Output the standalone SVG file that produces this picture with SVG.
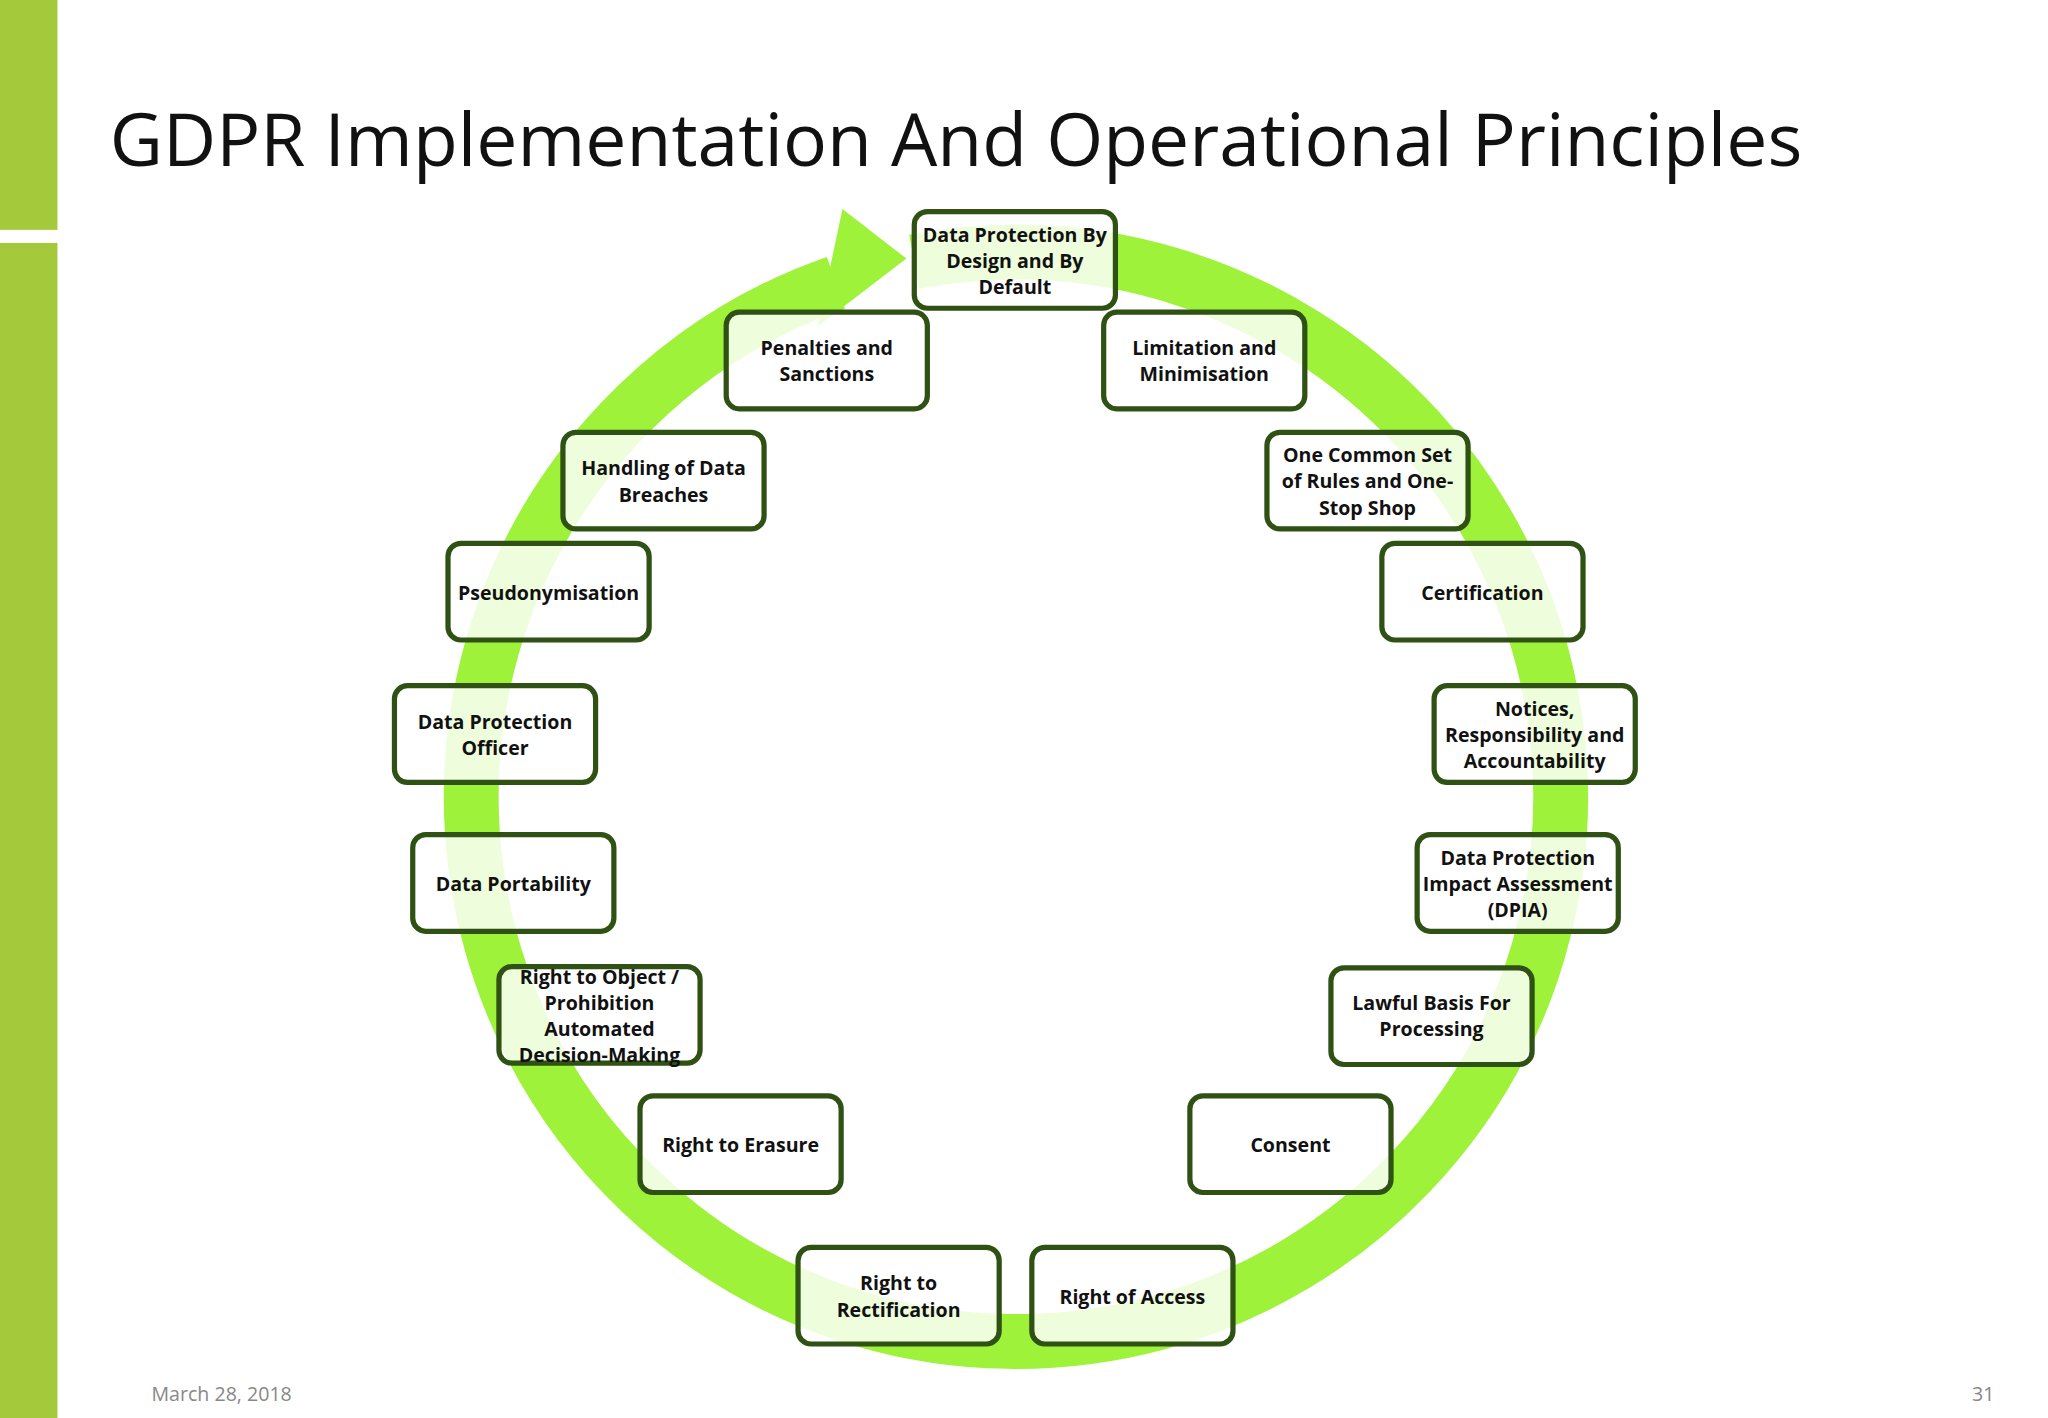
<svg xmlns="http://www.w3.org/2000/svg" width="2048" height="1418" viewBox="0 0 2048 1418">
<style>
.b rect{fill:#fff;fill-opacity:0.82;stroke:#2f5214;stroke-width:4}
.b text{font-family:"Open Sans","Noto Sans",sans-serif;font-weight:bold;font-size:15px;fill:#111;text-anchor:middle}
</style>
<rect width="2048" height="1418" fill="#fff"/>
<g transform="scale(1.30612)">
<rect x="0" y="0" width="44" height="176" fill="#a4c93a"/>
<rect x="0" y="186" width="44" height="900" fill="#a4c93a"/>
<text x="84" y="127" font-family="Open Sans, Noto Sans, sans-serif" font-size="56" fill="#111" textLength="1296" lengthAdjust="spacingAndGlyphs">GDPR Implementation And Operational Principles</text>
<text x="116" y="1073" font-family="Open Sans, sans-serif" font-size="15" fill="#888">March 28, 2018</text>
<text x="1527" y="1073" font-family="Open Sans, sans-serif" font-size="15" fill="#888" text-anchor="end">31</text>
<g id="connectors">
<path d="M700 200.4 A417 417 0 1 1 640 216.5" fill="none" stroke="#9ef23a" stroke-width="42"/>
<polygon points="645,160 694,198 626,250" fill="#9ef23a"/>
</g>
<g class="b" id="n1"><rect x="700" y="162" width="154" height="74" rx="10"/><text x="777" y="185">Data Protection By</text><text x="777" y="205">Design and By</text><text x="777" y="225">Default</text></g>
<g class="b" id="n2"><rect x="845" y="239" width="154" height="74" rx="10"/><text x="922" y="272">Limitation and</text><text x="922" y="292">Minimisation</text></g>
<g class="b" id="n3"><rect x="970" y="331" width="154" height="74" rx="10"/><text x="1047" y="354">One Common Set</text><text x="1047" y="374">of Rules and One-</text><text x="1047" y="394">Stop Shop</text></g>
<g class="b" id="n4"><rect x="1058" y="416" width="154" height="74" rx="10"/><text x="1135" y="459">Certification</text></g>
<g class="b" id="n5"><rect x="1098" y="525" width="154" height="74" rx="10"/><text x="1175" y="548">Notices,</text><text x="1175" y="568">Responsibility and</text><text x="1175" y="588">Accountability</text></g>
<g class="b" id="n6"><rect x="1085" y="639" width="154" height="74" rx="10"/><text x="1162" y="662">Data Protection</text><text x="1162" y="682">Impact Assessment</text><text x="1162" y="702">(DPIA)</text></g>
<g class="b" id="n7"><rect x="1019" y="741" width="154" height="74" rx="10"/><text x="1096" y="773">Lawful Basis For</text><text x="1096" y="793">Processing</text></g>
<g class="b" id="n8"><rect x="911" y="839" width="154" height="74" rx="10"/><text x="988" y="882">Consent</text></g>
<g class="b" id="n9"><rect x="790" y="955" width="154" height="74" rx="10"/><text x="867" y="998">Right of Access</text></g>
<g class="b" id="n10"><rect x="611" y="955" width="154" height="74" rx="10"/><text x="688" y="988">Right to</text><text x="688" y="1008">Rectification</text></g>
<g class="b" id="n11"><rect x="490" y="839" width="154" height="74" rx="10"/><text x="567" y="882">Right to Erasure</text></g>
<g class="b" id="n12"><rect x="382" y="740" width="154" height="74" rx="10"/><text x="459" y="753">Right to Object /</text><text x="459" y="773">Prohibition</text><text x="459" y="793">Automated</text><text x="459" y="813">Decision-Making</text></g>
<g class="b" id="n13"><rect x="316" y="639" width="154" height="74" rx="10"/><text x="393" y="682">Data Portability</text></g>
<g class="b" id="n14"><rect x="302" y="525" width="154" height="74" rx="10"/><text x="379" y="558">Data Protection</text><text x="379" y="578">Officer</text></g>
<g class="b" id="n15"><rect x="343" y="416" width="154" height="74" rx="10"/><text x="420" y="459">Pseudonymisation</text></g>
<g class="b" id="n16"><rect x="431" y="331" width="154" height="74" rx="10"/><text x="508" y="364">Handling of Data</text><text x="508" y="384">Breaches</text></g>
<g class="b" id="n17"><rect x="556" y="239" width="154" height="74" rx="10"/><text x="633" y="272">Penalties and</text><text x="633" y="292">Sanctions</text></g>
</g>
</svg>
